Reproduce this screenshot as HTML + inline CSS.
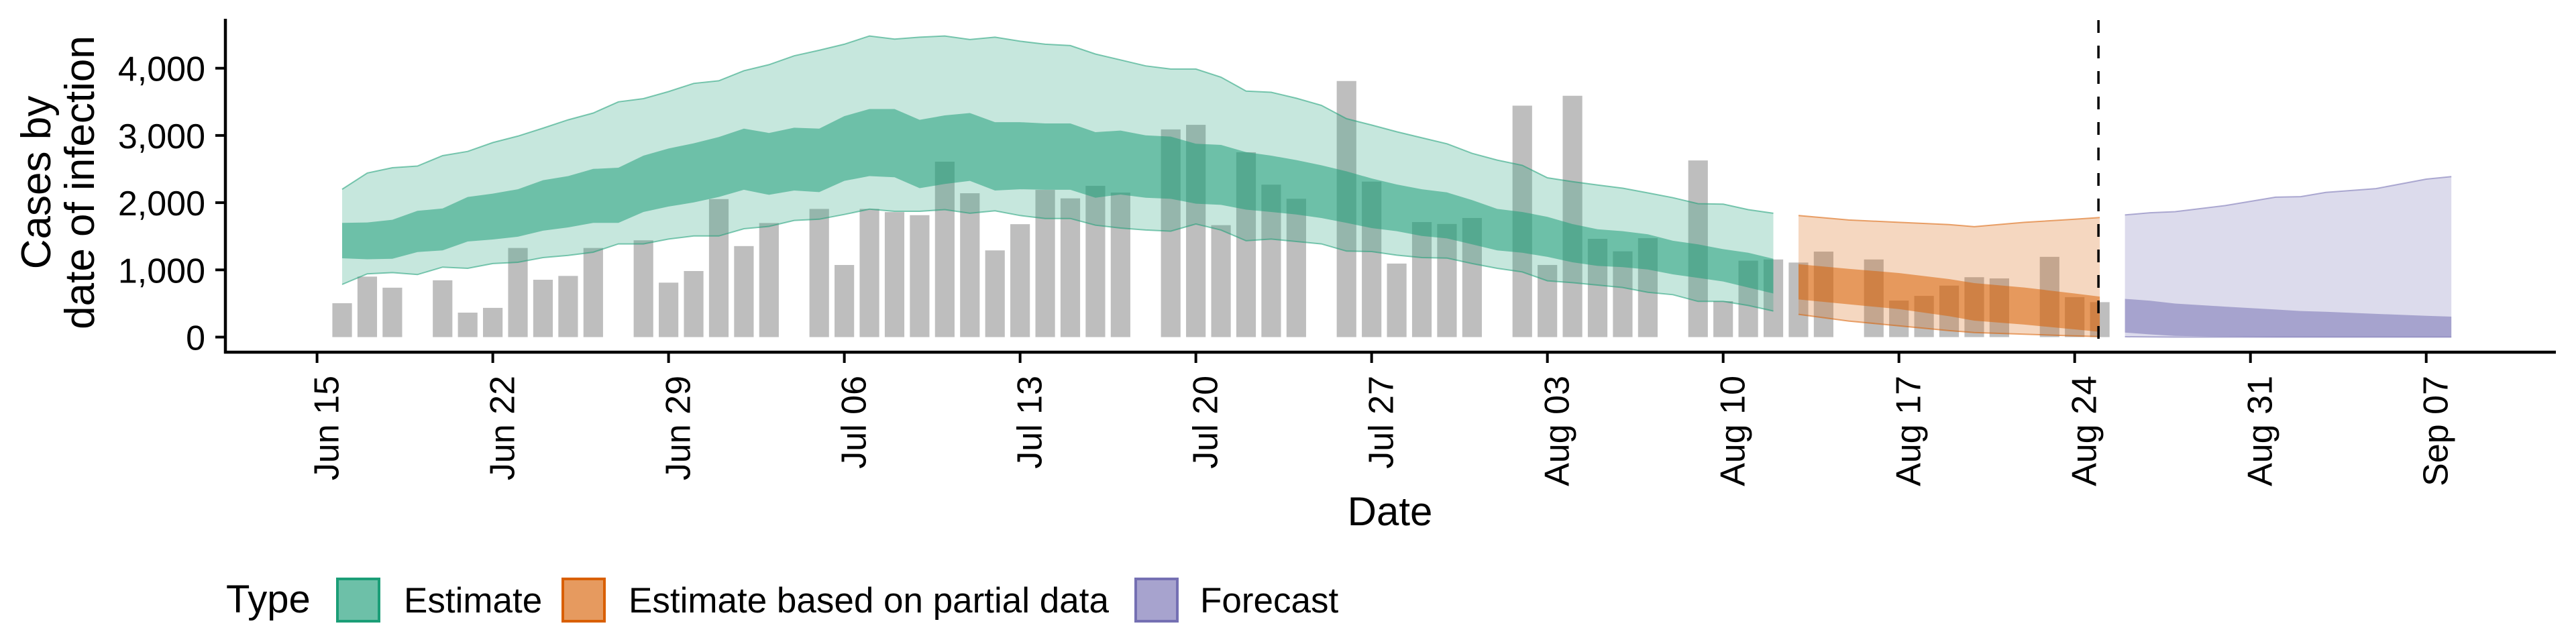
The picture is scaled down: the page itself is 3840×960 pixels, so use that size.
<!DOCTYPE html>
<html><head><meta charset="utf-8"><style>
html,body{margin:0;padding:0;background:#fff}
svg{display:block}
text{font-family:"Liberation Sans",Arial,sans-serif;fill:#000}
</style></head><body>
<svg id="chart" width="3840" height="960" viewBox="0 0 3840 960" xmlns="http://www.w3.org/2000/svg"></svg>
<script>
// ---- data (days since Jun 15) ----
const barDays = [1,2,3,4,5,6,7,8,9,10,11,12,13,14,15,16,17,18,19,20,21,22,23,24,25,26,27,28,29,30,31,32,33,34,35,36,37,38,39,40,41,42,43,44,45,46,47,48,49,50,51,52,53,54,55,56,57,58,59,60,61,62,63,64,65,66,67,68,69,70,71];
const barValues = [504,900,735,null,845,364,435,1326,853,910,1326,null,1440,810,983,2053,1354,1697,null,1907,1073,1907,1860,1814,2610,2140,1290,1680,2190,2064,2250,2150,null,3090,3158,1665,2750,2268,2058,null,3810,2313,1094,1711,1683,1772,null,3443,1073,3590,1462,1276,1472,null,2628,534,1137,1155,1109,1272,null,1155,543,613,766,891,873,null,1194,595,520];

const estDays = [1,2,3,4,5,6,7,8,9,10,11,12,13,14,15,16,17,18,19,20,21,22,23,24,25,26,27,28,29,30,31,32,33,34,35,36,37,38,39,40,41,42,43,44,45,46,47,48,49,50,51,52,53,54,55,56,57,58];
const estHi90 = [2200,2441,2520,2545,2700,2762,2894,2990,3109,3233,3333,3500,3548,3653,3774,3813,3963,4053,4185,4267,4357,4480,4434,4462,4480,4427,4462,4402,4357,4337,4212,4124,4035,3988,3988,3867,3661,3643,3554,3448,3250,3155,3055,2965,2876,2734,2634,2556,2370,2313,2263,2216,2146,2074,1985,1978,1896,1842];
const estHi50 = [1700,1706,1746,1878,1914,2085,2135,2200,2334,2395,2502,2520,2700,2805,2883,2976,3101,3037,3115,3101,3287,3393,3393,3233,3298,3333,3198,3198,3179,3179,3049,3073,3001,2983,2876,2859,2751,2700,2634,2556,2466,2360,2270,2200,2153,2039,1907,1861,1789,1682,1604,1576,1529,1433,1379,1308,1254,1166];
const estLo50 = [1173,1158,1165,1265,1290,1422,1452,1493,1583,1632,1700,1700,1861,1942,2003,2085,2192,2117,2181,2157,2324,2395,2377,2216,2277,2324,2181,2200,2192,2192,2074,2121,2074,2057,1985,1967,1896,1861,1824,1771,1700,1622,1576,1504,1468,1379,1290,1254,1194,1113,1059,1041,1005,933,880,827,738,649];
const estLo90 = [783,941,959,930,1041,1023,1094,1113,1183,1216,1262,1386,1386,1458,1504,1504,1612,1647,1736,1753,1824,1903,1871,1871,1896,1842,1878,1808,1764,1764,1665,1622,1593,1576,1683,1593,1433,1458,1422,1386,1279,1272,1219,1183,1176,1094,1023,969,837,809,773,738,667,631,531,531,470,388];

const partDays = [59,61,63,65,66,68,70,71];
const partHi90 = [1808,1743,1708,1675,1643,1708,1753,1779];
const partHi50 = [1084,1016,953,863,803,738,649,603];
const partLo50 = [560,488,417,310,245,186,115,79];
const partLo90 = [338,239,168,96,68,43,18,7];

const fcDays = [72,73,74,76,78,79,80,82,84,85];
const fcHi90 = [1817,1850,1866,1957,2082,2090,2153,2210,2350,2388];
const fcHi50 = [569,542,499,453,410,388,376,345,317,304];
const fcLo50 = [68,40,18,7,0,0,0,0,0,0];
const fcLo90 = [5,2,0,0,0,0,0,0,0,0];

const yTicks = [0,1000,2000,3000,4000];
const yTickLabels = ["0","1,000","2,000","3,000","4,000"];
const xTickDays = [0,7,14,21,28,35,42,49,56,63,70,77,84];
const xTickLabels = ["Jun 15","Jun 22","Jun 29","Jul 06","Jul 13","Jul 20","Jul 27","Aug 03","Aug 10","Aug 17","Aug 24","Aug 31","Sep 07"];
const nowcastDay = 71;

// ---- scales ----
const X0 = 472.6, DX = 37.43, Y0 = 502.5, KY = 0.1002;
function xs(d){ return X0 + d*DX; }
function ys(v){ return Y0 - v*KY; }

const NS = "http://www.w3.org/2000/svg";
const svg = document.getElementById('chart');
function mk(tag, attrs, parent){
  const e = document.createElementNS(NS, tag);
  for (const k in attrs) e.setAttribute(k, attrs[k]);
  (parent||svg).appendChild(e);
  return e;
}

// bars
const gBars = mk('g', {});


const bw = 0.78*DX;
barDays.forEach((d,i)=>{
  const v = barValues[i];
  if (v === null) return;
  const r = mk('rect', {x: xs(d)-bw/2, y: ys(v), width: bw, height: ys(0)-ys(v), fill:'#bebebe'}, gBars);
  
  
});

function area(days, hi, lo){
  let p = '';
  days.forEach((d,i)=>{ p += (i?'L':'M') + xs(d).toFixed(1) + ',' + ys(hi[i]).toFixed(1); });
  for (let i=days.length-1;i>=0;i--) p += 'L' + xs(days[i]).toFixed(1) + ',' + ys(lo[i]).toFixed(1);
  return p + 'Z';
}
function line(days, vals){
  let p = '';
  days.forEach((d,i)=>{ p += (i?'L':'M') + xs(d).toFixed(1) + ',' + ys(vals[i]).toFixed(1); });
  return p;
}
function band(name, color, days, hi90, hi50, lo50, lo90){
  const g = mk('g', {});
  
  
  const o = mk('path', {d: area(days, hi90, lo90), fill: color, 'fill-opacity': 0.25}, g);
  
  
  const i = mk('path', {d: area(days, hi50, lo50), fill: color, 'fill-opacity': 0.52}, g);
  
  
  const u = mk('path', {d: line(days, hi90), fill:'none', stroke: color, 'stroke-width': 2, 'stroke-opacity': 0.55}, g);
  
  
  const l = mk('path', {d: line(days, lo90), fill:'none', stroke: color, 'stroke-width': 2, 'stroke-opacity': 0.55}, g);
  
  
}
band('estimate', '#1b9e77', estDays, estHi90, estHi50, estLo50, estLo90);
band('partial-estimate', '#d95f02', partDays, partHi90, partHi50, partLo50, partLo90);
band('forecast', '#7570b3', fcDays, fcHi90, fcHi50, fcLo50, fcLo90);

// dashed nowcast line
const dl = mk('line', {x1: xs(nowcastDay)-2, x2: xs(nowcastDay)-2, y1: 30, y2: 523, stroke:'#000', 'stroke-width': 3.5, 'stroke-dasharray':'19 19'});



// axes
const ya = mk('line', {x1:336, x2:336, y1:28, y2:527, stroke:'#000', 'stroke-width':4.5});


const xa = mk('line', {x1:334, x2:3810, y1:525, y2:525, stroke:'#000', 'stroke-width':4.5});



yTicks.forEach((v,i)=>{
  const t = mk('line', {x1:321, x2:336, y1:ys(v), y2:ys(v), stroke:'#000', 'stroke-width':4});
  
  
  const l = mk('text', {x:306, y:ys(v)+19, 'text-anchor':'end', 'font-size':52});
  l.textContent = yTickLabels[i];
  
  
});
xTickDays.forEach((d,i)=>{
  const x = xs(d);
  const t = mk('line', {x1:x, x2:x, y1:525, y2:541, stroke:'#000', 'stroke-width':4});
  
  
  const l = mk('text', {x:0, y:0, 'text-anchor':'end', 'font-size':52, transform:'translate(' + (x+32) + ',560) rotate(-90)'});
  l.textContent = xTickLabels[i];
  
  
});
</script>
<svg style="position:absolute;left:0;top:0" width="3840" height="960">
  <text transform="translate(75,272) rotate(-90)" text-anchor="middle" font-size="62">Cases by</text>
  <text transform="translate(140,272) rotate(-90)" text-anchor="middle" font-size="62">date of infection</text>
  <text x="2072" y="783" text-anchor="middle" font-size="60">Date</text>
  <g>
    <text x="337" y="913" font-size="58">Type</text>
    <g>
      <rect x="503" y="863" width="62" height="63" fill="#6dc0a8" stroke="#1b9e77" stroke-width="4"/>
      <text x="602" y="913" font-size="53">Estimate</text>
    </g>
    <g>
      <rect x="839" y="863" width="62" height="63" fill="#e69a5f" stroke="#d95f02" stroke-width="4"/>
      <text x="937" y="913" font-size="53">Estimate based on partial data</text>
    </g>
    <g>
      <rect x="1693" y="863" width="62" height="63" fill="#a7a3ce" stroke="#7570b3" stroke-width="4"/>
      <text x="1789" y="913" font-size="53">Forecast</text>
    </g>
  </g>
</svg>
</body></html>
